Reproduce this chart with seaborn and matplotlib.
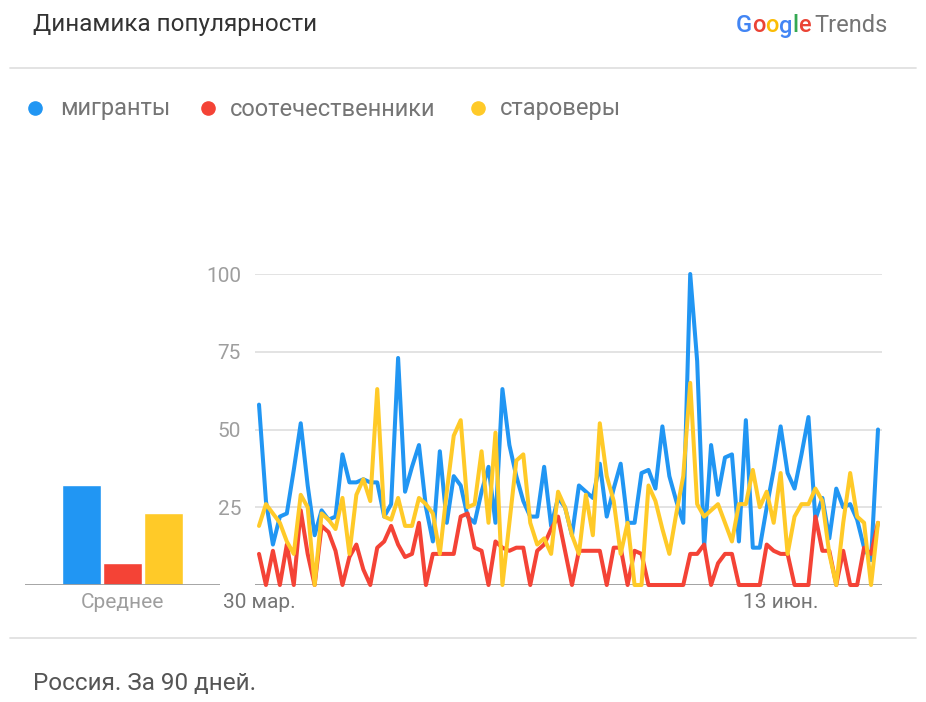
import numpy as np
import pandas as pd
import matplotlib
matplotlib.use("Agg")
import matplotlib.pyplot as plt
from matplotlib.lines import Line2D
import seaborn as sns

# --- данные (Google Trends, 90 дней) ---
terms = ["мигранты", "соотечественники", "староверы"]
colors = ["#2196f3", "#f44336", "#ffca28"]

migrants = [58, 27, 13, 22, 23, 37, 52, 32, 16, 24, 21, 22, 42, 33, 33, 34, 33, 33, 22, 26,
            73, 30, 38, 45, 25, 14, 43, 20, 35, 32, 22, 20, 30, 38, 20, 63, 45, 35, 27, 22,
            22, 38, 19, 28, 25, 16, 32, 30, 28, 39, 22, 31, 39, 20, 20, 36, 37, 31, 51, 35,
            27, 20, 100, 72, 12, 45, 29, 41, 42, 14, 53, 12, 12, 25, 37, 51, 36, 31, 42, 54,
            21, 28, 15, 31, 25, 26, 21, 12, 8, 50]
compatriots = [10, 0, 11, 0, 13, 0, 24, 10, 0, 19, 17, 11, 0, 9, 13, 5, 0, 12, 14, 19,
               13, 9, 10, 20, 0, 10, 10, 10, 10, 22, 23, 12, 11, 0, 14, 12, 11, 12, 12, 0,
               11, 13, 18, 22, 11, 0, 11, 11, 11, 11, 0, 12, 12, 0, 11, 10, 0, 0, 0, 0,
               0, 0, 10, 10, 13, 0, 7, 10, 10, 0, 0, 0, 0, 13, 11, 10, 10, 0, 0, 0,
               22, 11, 11, 0, 11, 0, 0, 12, 10, 20]
old_believers = [19, 26, 23, 20, 14, 10, 29, 25, 0, 23, 21, 18, 28, 10, 29, 34, 27, 63, 22, 21,
                 28, 19, 19, 28, 26, 23, 10, 30, 48, 53, 25, 26, 43, 20, 49, 0, 20, 40, 42, 20,
                 13, 15, 10, 30, 25, 16, 10, 29, 16, 52, 35, 27, 10, 20, 0, 0, 32, 27, 18, 10,
                 23, 35, 65, 26, 22, 24, 26, 20, 14, 26, 26, 37, 25, 30, 20, 36, 10, 22, 26, 26,
                 31, 27, 10, 0, 20, 36, 22, 20, 0, 20]
averages = [32, 7, 23]

x_tick_pos = [0, 75]
x_tick_labels = ["30 мар.", "13 июн."]
y_ticks = [0, 25, 50, 75, 100]
y_tick_labels = ["", "25", "50", "75", "100"]

W, H = 926, 702


def fx(px):
    return px / W


def fy(py):
    return 1 - py / H


sns.set_theme(style="white")
plt.rcParams['font.family'] = ['Roboto', 'DejaVu Sans']

fig = plt.figure(figsize=(9.26, 7.02), dpi=100)
fig.patch.set_facecolor("white")

# --- основной график ---
ax = fig.add_axes([fx(255), fy(585), fx(882) - fx(255), fy(274) - fy(585)])
n = len(migrants)
df = pd.DataFrame({
    "day": np.tile(np.arange(n), 3),
    "value": migrants + compatriots + old_believers,
    "term": np.repeat(terms, n),
})
sns.lineplot(data=df, x="day", y="value", hue="term", hue_order=terms,
             palette=dict(zip(terms, colors)), linewidth=2.9, legend=False,
             ax=ax, clip_on=False)
pad = 4 * (n - 1) / 619
ax.set_xlim(-pad, n - 1 + pad)
ax.set_ylim(0, 100)
ax.set_yticks(y_ticks, y_tick_labels)
ax.set_xticks(x_tick_pos, x_tick_labels)
ax.yaxis.grid(True, color="#e0e0e0", linewidth=1.3)
ax.set_axisbelow(True)
ax.axhline(0, color="#9e9e9e", linewidth=1.3, zorder=1)
for s in ax.spines.values():
    s.set_visible(False)
ax.tick_params(axis="y", length=0, pad=10, labelsize=15, labelcolor="#9e9e9e")
ax.tick_params(axis="x", length=0, pad=6, labelsize=15, labelcolor="#757575")
ax.set_xlabel("")
ax.set_ylabel("")

# --- средние значения ---
ax2 = fig.add_axes([fx(25), fy(585), fx(220) - fx(25), fy(274) - fy(585)])
sns.barplot(x=terms, y=averages, hue=terms, hue_order=terms,
            palette=dict(zip(terms, colors)), width=0.96, legend=False, ax=ax2,
            saturation=1)
ax2.set_xlim(-1.4, 3.4)
ax2.set_ylim(0, 100)
ax2.axhline(0, color="#9e9e9e", linewidth=1.3)
for s in ax2.spines.values():
    s.set_visible(False)
ax2.set_xticks([1], ["Среднее"])
ax2.set_yticks([])
ax2.tick_params(axis="x", length=0, pad=6, labelsize=15, labelcolor="#9e9e9e")
ax2.set_facecolor("none")

# --- заголовок, логотип, легенда, подпись ---
fig.text(fx(33), fy(24), "Динамика популярности", fontsize=17.5, color="#333333",
         va="center", ha="left")

fig.canvas.draw()
renderer = fig.canvas.get_renderer()
logo = "Google"
logo_colors = ["#4285f4", "#ea4335", "#fbbc05", "#4285f4", "#34a853", "#ea4335"]
x0 = fx(736)
for i, c in enumerate(logo_colors):
    off = 0
    if i > 0:
        tmp = fig.text(0, 0, logo[:i], fontsize=17, fontweight="medium")
        off = tmp.get_window_extent(renderer).width / W
        tmp.remove()
    fig.text(x0 + off, fy(26), logo[i], fontsize=17, color=c, va="center", ha="left",
             fontweight="medium")
tmp = fig.text(0, 0, logo, fontsize=17, fontweight="medium")
full_w = tmp.get_window_extent(renderer).width / W
tmp.remove()
fig.text(x0 + full_w + fx(3), fy(26), "Trends", fontsize=17, color="#757575",
         va="center", ha="left")

for lx, tx, term, c in zip([35, 208, 478], [60, 230, 500], terms, colors):
    fig.add_artist(Line2D([fx(lx)], [fy(108)], marker="o", markersize=9.5, color=c,
                          linestyle="none", transform=fig.transFigure))
    fig.text(fx(tx), fy(109), term, fontsize=17, color="#757575", va="center", ha="left")

for yy in [68, 638]:
    fig.add_artist(Line2D([fx(10), fx(916)], [fy(yy), fy(yy)], color="#e0e0e0",
                          linewidth=1.3, transform=fig.transFigure))

fig.text(fx(33), fy(684), "Россия. За 90 дней.", fontsize=17.5, color="#555555",
         va="center", ha="left")

fig.savefig("out.png", dpi=100, facecolor="white")
